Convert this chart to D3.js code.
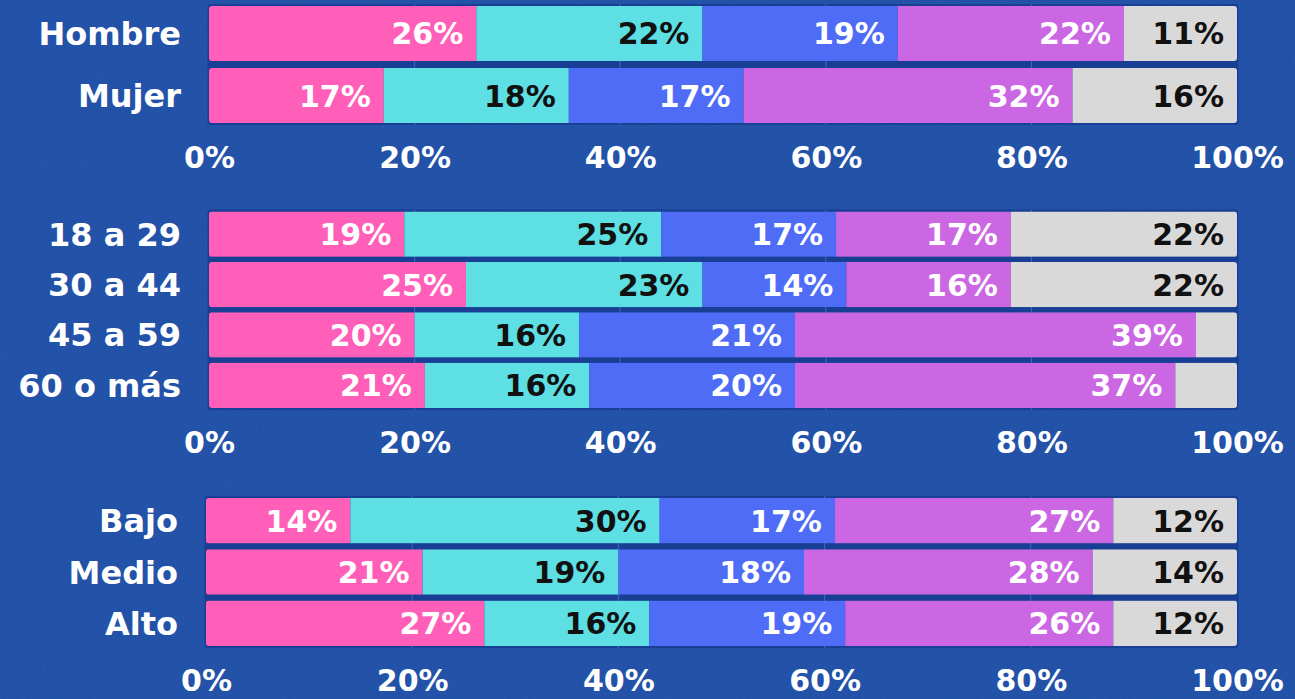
<!DOCTYPE html>
<html>
<head>
<meta charset="utf-8">
<script src="https://cdn.jsdelivr.net/npm/d3@7"></script>
<style>
  html, body { margin: 0; padding: 0; background: #2251a8; }
  svg { display: block; }
</style>
</head>
<body>
<svg id="chart" width="1295" height="699"></svg>
<script>
// Percentage breakdown by sex, age group and income level
const sexCategories = ["Hombre", "Mujer"];
const sexValues = [
  [26, 22, 19, 22, 11],
  [17, 18, 17, 32, 16]
];

const ageCategories = ["18 a 29", "30 a 44", "45 a 59", "60 o más"];
const ageValues = [
  [19, 25, 17, 17, 22],
  [25, 23, 14, 16, 22],
  [20, 16, 21, 39, 4],
  [21, 16, 20, 37, 6]
];

const incomeCategories = ["Bajo", "Medio", "Alto"];
const incomeValues = [
  [14, 30, 17, 27, 12],
  [21, 19, 18, 28, 14],
  [27, 16, 19, 26, 12]
];

const tickValues = [0, 20, 40, 60, 80, 100];
const tickLabels = ["0%", "20%", "40%", "60%", "80%", "100%"];

// segment styling, in stacking order
const segmentColors = ["#ff5fb8", "#5ddfe4", "#4e6cf6", "#cc67e4", "#d9d9d9"];
const labelColors = ["#ffffff", "#111111", "#ffffff", "#ffffff", "#111111"];

const W = 1295, H = 699;
const FONT = "'DejaVu Sans', sans-serif";
const svg = d3.select("#chart");

// grainy backdrop
const defs = svg.append("defs");
const grain = defs.append("filter").attr("id", "grain")
  .attr("x", 0).attr("y", 0).attr("width", "100%").attr("height", "100%");
grain.append("feTurbulence").attr("type", "fractalNoise")
  .attr("baseFrequency", 0.9).attr("numOctaves", 2).attr("seed", 7).attr("result", "n");
grain.append("feColorMatrix").attr("type", "matrix")
  .attr("values", "0 0 0 0 1  0 0 0 0 1  0 0 0 0 1  0 0 0 1.4 -0.75");

svg.append("rect").attr("width", W).attr("height", H).attr("fill", "#2251a8");
svg.append("rect").attr("width", W).attr("height", H)
  .attr("filter", "url(#grain)").attr("opacity", 0.10);

const panels = [
  { cats: sexCategories, vals: sexValues, x0: 209, x1: 1237, y0: 6, y1: 123, pad: 0.113 },
  { cats: ageCategories, vals: ageValues, x0: 209, x1: 1237, y0: 211.5, y1: 408, pad: 0.1 },
  { cats: incomeCategories, vals: incomeValues, x0: 206, x1: 1237, y0: 498, y1: 646, pad: 0.115 }
];

panels.forEach((p, pi) => {
  const x = d3.scaleLinear().domain([0, 100]).range([p.x0, p.x1]);
  const y = d3.scaleBand().domain(p.cats).range([p.y0, p.y1])
    .paddingInner(p.pad).paddingOuter(0);
  const g = svg.append("g");

  // dark backing showing through the gaps between rows
  g.append("rect")
    .attr("x", x(0) - 1.5).attr("y", p.y0 - 2)
    .attr("width", x(100) - x(0) + 3).attr("height", p.y1 - p.y0 + 4)
    .attr("rx", 3).attr("fill", "#183f93");

  // faint gridlines
  g.selectAll("line.grid").data(tickValues.slice(1, -1)).join("line")
    .attr("class", "grid")
    .attr("x1", d => x(d)).attr("x2", d => x(d))
    .attr("y1", p.y0 - 2).attr("y2", p.y1 + 2)
    .attr("stroke", "#3b68c0").attr("stroke-width", 1);

  p.cats.forEach((cat, ri) => {
    const row = p.vals[ri];
    const ends = d3.cumsum(row);
    const starts = ends.map((e, i) => e - row[i]);
    const clipId = `clip-${pi}-${ri}`;
    defs.append("clipPath").attr("id", clipId).append("rect")
      .attr("x", x(0)).attr("y", y(cat))
      .attr("width", x(100) - x(0)).attr("height", y.bandwidth()).attr("rx", 3);

    const rg = g.append("g").attr("clip-path", `url(#${clipId})`);
    rg.selectAll("rect").data(row).join("rect")
      .attr("x", (d, i) => x(starts[i]))
      .attr("y", y(cat))
      .attr("width", (d, i) => x(ends[i]) - x(starts[i]))
      .attr("height", y.bandwidth())
      .attr("fill", (d, i) => segmentColors[i]);

    const cy = y(cat) + y.bandwidth() / 2;
    g.selectAll(null).data(row.map((v, i) => ({ v, i })).filter(d => d.v >= 8)).join("text")
      .attr("x", d => x(ends[d.i]) - 13)
      .attr("y", cy + 11)
      .attr("text-anchor", "end")
      .attr("font-family", FONT).attr("font-weight", "bold").attr("font-size", 30)
      .attr("fill", d => labelColors[d.i])
      .text(d => d.v + "%");

    // row label
    g.append("text")
      .attr("x", x(0) - 28).attr("y", cy + 11.5)
      .attr("text-anchor", "end")
      .attr("font-family", FONT).attr("font-weight", "bold").attr("font-size", 32)
      .attr("fill", "#ffffff")
      .text(cat);
  });

  // percentage axis below the panel
  const axis = d3.axisBottom(x).tickValues(tickValues)
    .tickFormat((d, i) => tickLabels[i]).tickSize(0).tickPadding(0);
  const ag = g.append("g").attr("transform", `translate(0,${p.y1 + 45})`).call(axis);
  ag.select(".domain").remove();
  ag.selectAll("text")
    .attr("dy", 0).attr("y", 0)
    .attr("font-family", FONT).attr("font-weight", "bold").attr("font-size", 30)
    .attr("fill", "#ffffff");
});
</script>
</body>
</html>
